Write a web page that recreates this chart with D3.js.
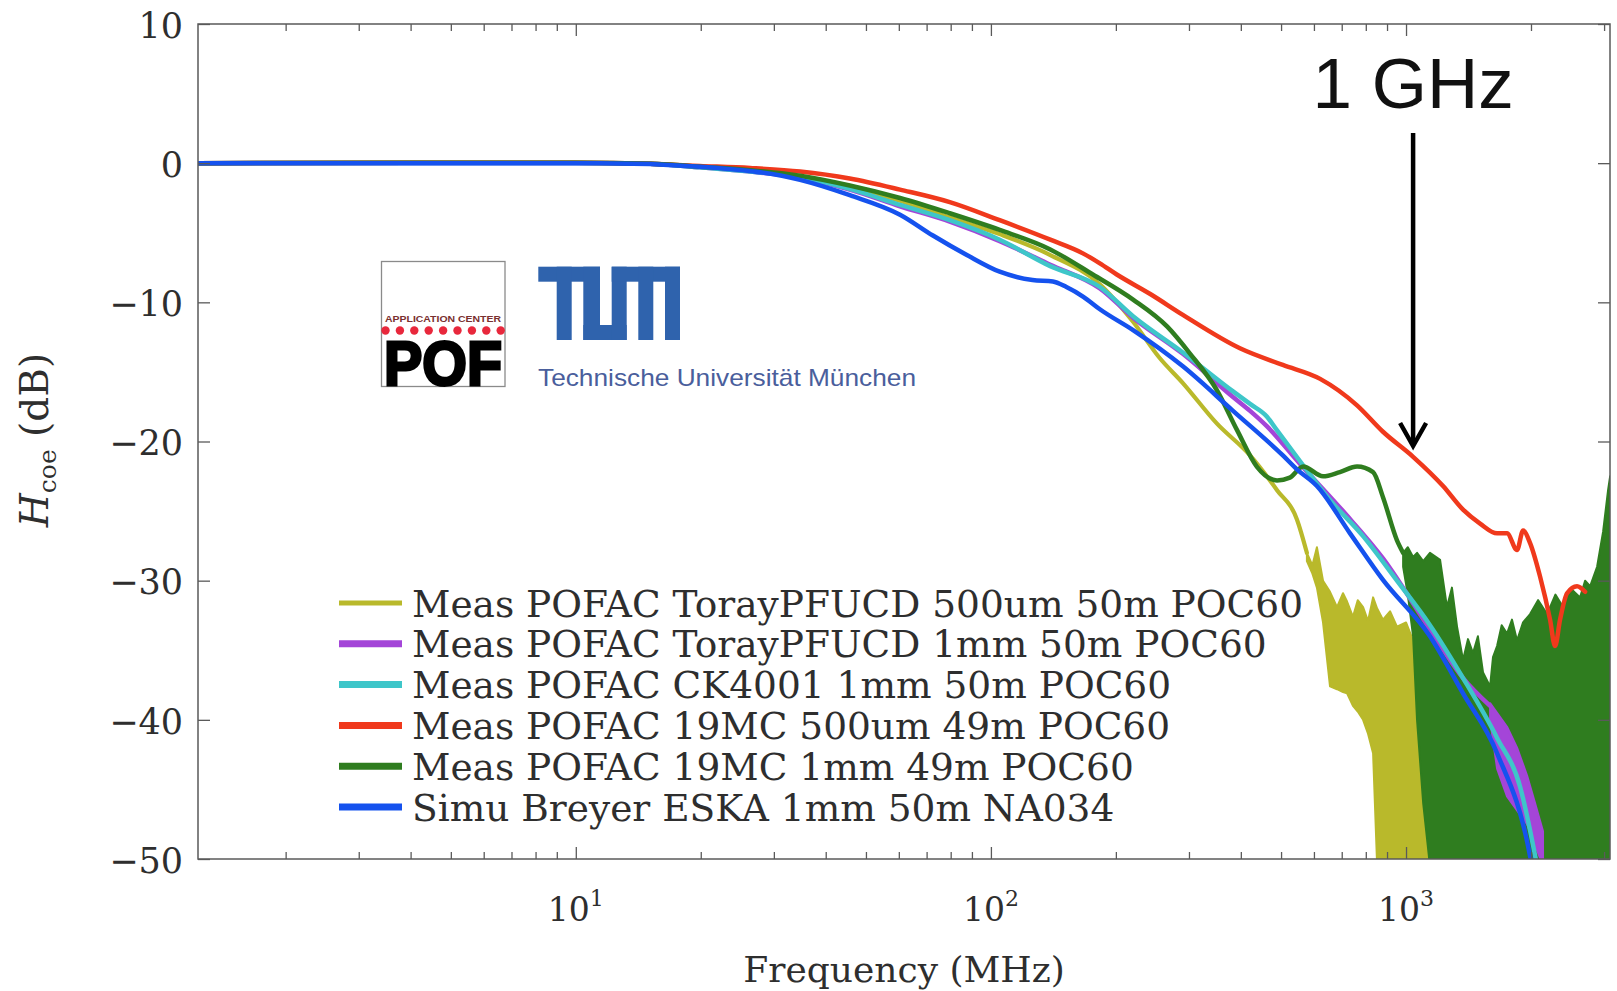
<!DOCTYPE html>
<html><head><meta charset="utf-8">
<script src="https://cdn.jsdelivr.net/npm/d3@7"></script>
<style>body{margin:0;background:#fff}svg{display:block}</style>
</head><body>
<svg id="chart" width="1617" height="991"></svg>
<script>
// ---------------- DATA ----------------
const freqDomain = [1.23, 3100];      // MHz
const dbDomain = [-50, 10];           // dB
const yTicks = [-50, -40, -30, -20, -10, 0, 10];
const xMajorTicks = [10, 100, 1000];
const xTickExponents = ["1", "2", "3"];

const seriesNames = [
  "Meas POFAC TorayPFUCD 500um 50m POC60",
  "Meas POFAC TorayPFUCD 1mm 50m POC60",
  "Meas POFAC CK4001 1mm 50m POC60",
  "Meas POFAC 19MC 500um 49m POC60",
  "Meas POFAC 19MC 1mm 49m POC60",
  "Simu Breyer ESKA 1mm 50m NA034"
];
const seriesColors = ["#b9b92b", "#a445d8", "#3ec6c9", "#f0391c", "#2f7d1f", "#1552ee"];

// [frequency MHz, dB]
const oliveLine = [[1.23,0],[5,0.03],[10,0.03],[15.1,-0.05],[19.9,-0.25],[26.3,-0.55],[34.7,-1.0],[45.7,-1.75],[60.4,-2.7],[79.6,-3.9],[105,-5.1],[139,-6.6],[183,-8.7],[220,-11.4],[255,-14.0],[290,-15.8],[350,-18.7],[421,-21.0],[489,-23.5],[546,-25.6],[577,-28.0]];
// [frequency MHz, upper dB, lower dB] envelope of the noisy tail
const oliveBand = [[577,-28.0,-28.6],[595,-28.9,-29.5],[610,-27.6,-30.5],[631,-30.0,-33.0],[656,-30.8,-37.6],[682,-31.9,-37.8],[705,-30.9,-38.0],[721,-31.5,-38.1],[745,-32.6,-39.0],[765,-31.4,-39.4],[788,-31.9,-40.0],[810,-32.9,-41.0],[833,-31.2,-42.4],[852,-32.0,-50.5],[880,-32.8,-50.5],[915,-32.2,-50.5],[951,-33.3,-50.5],[1000,-33.0,-50.5],[1040,-34.3,-50.5],[1100,-33.8,-50.5],[1162,-35.0,-50.5],[1276,-36.0,-50.5],[1372,-37.5,-50.5],[1467,-40.0,-50.5],[1508,-42.0,-50.5]];

const magentaLine = [[1.23,0],[10,0.02],[15.1,-0.05],[19.9,-0.3],[26.3,-0.6],[34.7,-1.05],[45.7,-1.9],[60.4,-3.1],[79.6,-4.2],[105,-5.6],[139,-7.3],[183,-9.0],[220,-11.1],[290,-13.7],[383,-16.8],[421,-17.8],[462,-18.9],[555,-21.6],[705,-25.0],[880,-28.4],[1142,-33.5],[1372,-37.0],[1594,-39.0]];
const magentaBand = [[1594,-38.8,-40.0],[1657,-39.5,-43.5],[1751,-40.5,-45.5],[1851,-42.0,-46.5],[1957,-44.0,-47.5],[2046,-46.0,-49.0],[2138,-48.0,-50.5]];

const cyanLine = [[1.23,0],[10,0.02],[15.1,-0.05],[19.9,-0.3],[26.3,-0.6],[34.7,-1.0],[45.7,-1.85],[60.4,-3.0],[79.6,-4.1],[105,-5.5],[139,-7.4],[183,-8.9],[220,-11.0],[290,-13.6],[383,-16.4],[421,-17.3],[462,-18.2],[489,-19.2],[555,-21.4],[656,-24.2],[788,-26.8],[951,-30.0],[1142,-33.2],[1372,-37.0],[1657,-41.3],[1882,-44.8],[2069,-50.5]];

const redLine = [[1.23,0],[10,0.03],[15.1,-0.05],[19.9,-0.2],[26.3,-0.35],[34.7,-0.6],[45.7,-1.1],[60.4,-1.9],[79.6,-2.8],[105,-4.1],[139,-5.5],[167,-6.5],[183,-7.2],[201,-8.0],[242,-9.4],[290,-10.9],[398,-13.3],[505,-14.5],[621,-15.5],[762,-17.4],[880,-19.3],[1040,-21.1],[1228,-23.2],[1372,-24.9],[1508,-25.9],[1657,-26.6],[1751,-26.6],[1851,-27.8],[1914,-26.4],[1990,-27.3],[2103,-29.7],[2223,-32.8],[2286,-34.7],[2350,-32.8],[2443,-30.9],[2582,-30.4],[2700,-30.8]];

const greenLine = [[1.23,0],[10,0.03],[15.1,-0.05],[19.9,-0.25],[26.3,-0.5],[34.7,-0.9],[45.7,-1.6],[60.4,-2.5],[79.6,-3.6],[105,-4.8],[139,-6.2],[176,-8.0],[220,-9.8],[266,-11.75],[302,-13.7],[350,-16.3],[392,-19.2],[437,-21.8],[489,-22.8],[525,-22.6],[565,-21.8],[631,-22.5],[693,-22.2],[762,-21.8],[833,-22.2],[880,-24.0],[951,-27.1],[984,-28.0]];
const greenBand = [[984,-28.0,-29.0],[1010,-27.6,-31.0],[1040,-28.3,-34.0],[1063,-28.0,-40.0],[1100,-28.6,-46.0],[1142,-28.0,-50.5],[1208,-28.5,-50.5],[1255,-31.9,-50.5],[1290,-30.5,-50.5],[1327,-33.3,-50.5],[1372,-35.7,-50.5],[1410,-34.2,-50.5],[1450,-35.2,-50.5],[1490,-34.0,-50.5],[1533,-36.6,-50.5],[1594,-37.6,-50.5],[1620,-35.5,-50.5],[1657,-34.7,-50.5],[1700,-33.2,-50.5],[1751,-33.8,-50.5],[1800,-32.8,-50.5],[1851,-34.3,-50.5],[1914,-33.0,-50.5],[1990,-32.4,-50.5],[2080,-31.4,-50.5],[2187,-32.4,-50.5],[2290,-31.0,-50.5],[2389,-31.9,-50.5],[2500,-30.6,-50.5],[2626,-31.2,-50.5],[2700,-30.0,-50.5],[2776,-30.4,-50.5],[2886,-29.0,-50.5],[2983,-26.5,-50.5],[3067,-23.5,-50.5],[3102,-22.5,-50.5]];

const blueLine = [[1.23,0],[10,0],[11.4,0],[19.9,-0.25],[34.7,-1.2],[45.7,-2.3],[60.4,-3.7],[72.5,-5.2],[87.5,-6.6],[105,-7.8],[126,-8.4],[141,-8.5],[152,-8.9],[167,-9.6],[183,-10.5],[220,-12.0],[290,-14.6],[383,-17.8],[505,-21.0],[546,-22.0],[610,-23.2],[733,-26.6],[880,-29.95],[1142,-34.0],[1372,-38.1],[1657,-42.4],[1990,-49.8],[2010,-50.5]];

const annotationFreq = 1040;   // MHz, "1 GHz" marker
const annotationText = "1 GHz";

// ---------------- LAYOUT ----------------
const plot = {left: 198, right: 1610, top: 24, bottom: 859};
const x = d3.scaleLog().domain(freqDomain).range([plot.left, plot.right]);
const y = d3.scaleLinear().domain(dbDomain).range([plot.bottom, plot.top]);
const svg = d3.select("#chart");
const serif = "'DejaVu Serif', serif";
const axisColor = "#5a5a5a";
const textColor = "#2e2e2e";

svg.append("defs").append("clipPath").attr("id", "clip")
  .append("rect").attr("x", plot.left).attr("y", plot.top)
  .attr("width", plot.right - plot.left).attr("height", plot.bottom - plot.top);

// ---------------- LOGOS ----------------
const logo = svg.append("g");
logo.append("rect").attr("x", 381.5).attr("y", 261.5).attr("width", 123.5).attr("height", 125)
  .attr("fill", "#fff").attr("stroke", "#8a8a8a").attr("stroke-width", 1.3);
logo.append("text").attr("x", 443).attr("y", 322).attr("text-anchor", "middle")
  .attr("font-family", "'Liberation Sans', Arial, sans-serif").attr("font-size", 8.5).attr("font-weight", "bold")
  .attr("fill", "#7a3030").attr("textLength", 116).attr("lengthAdjust", "spacingAndGlyphs")
  .text("APPLICATION CENTER");
d3.range(9).forEach(i => {
  logo.append("circle").attr("cx", 385.5 + i * 14.4).attr("cy", 330.5).attr("r", 4.2).attr("fill", "#e8283c");
});
logo.append("text").attr("x", 384).attr("y", 384.5)
  .attr("font-family", "'Liberation Sans', Arial, sans-serif").attr("font-size", 63).attr("font-weight", "bold")
  .attr("fill", "#000").attr("stroke", "#000").attr("stroke-width", 3)
  .attr("textLength", 118).attr("lengthAdjust", "spacingAndGlyphs").text("POF");
const tumBlue = "#2f63ad";
[[538.3,266.7,61.7,15],[556.7,266.7,15,73.3],[583.3,266.7,16.7,73.3],[583.3,325,43.4,15],
 [611.7,266.7,15,73.3],[611.7,266.7,68.3,15],[638.3,266.7,15,73.3],[665,266.7,15,73.3]]
 .forEach(r => logo.append("rect").attr("x", r[0]).attr("y", r[1]).attr("width", r[2]).attr("height", r[3]).attr("fill", tumBlue));
logo.append("text").attr("x", 538).attr("y", 385.5)
  .attr("font-family", "'Liberation Sans', Arial, sans-serif").attr("font-size", 24)
  .attr("fill", "#4a5e9c").attr("textLength", 378).attr("lengthAdjust", "spacingAndGlyphs")
  .text("Technische Universität München");

// ---------------- DATA MARKS ----------------
const data = svg.append("g").attr("clip-path", "url(#clip)");
const line = d3.line().x(d => x(d[0])).y(d => y(d[1])).curve(d3.curveMonotoneX);
const band = d3.area().x(d => x(d[0])).y1(d => y(d[1])).y0(d => y(d[2])).curve(d3.curveLinear);

function drawLine(arr, color, w) {
  data.append("path").datum(arr).attr("d", line).attr("fill", "none").attr("stroke", color)
    .attr("stroke-width", w).attr("stroke-linejoin", "round").attr("stroke-linecap", "round");
}
function drawBand(arr, color) {
  data.append("path").datum(arr).attr("d", band).attr("fill", color).attr("stroke", color)
    .attr("stroke-width", 2).attr("stroke-linejoin", "round");
}
drawLine(oliveLine, seriesColors[0], 4.2);
drawBand(oliveBand, seriesColors[0]);
drawBand(greenBand, seriesColors[4]);
drawLine(magentaLine, seriesColors[1], 4.5);
drawBand(magentaBand, seriesColors[1]);
drawLine(cyanLine, seriesColors[2], 4.5);
drawLine(redLine, seriesColors[3], 4.5);
drawLine(greenLine, seriesColors[4], 4.5);
drawLine(blueLine, seriesColors[5], 4.5);

// ---------------- AXES ----------------
const allLogTicks = x.ticks();
const minorTicks = allLogTicks.filter(t => !xMajorTicks.includes(t));

function styleAxis(g) {
  g.select(".domain").remove();
  g.selectAll(".tick line").attr("stroke", axisColor).attr("stroke-width", 1.3);
}
svg.append("g").attr("transform", `translate(0,${plot.bottom})`)
  .call(d3.axisBottom(x).tickValues(minorTicks).tickSize(-7).tickFormat("").tickSizeOuter(0)).call(styleAxis);
svg.append("g").attr("transform", `translate(0,${plot.bottom})`)
  .call(d3.axisBottom(x).tickValues(xMajorTicks).tickSize(-12).tickFormat("").tickSizeOuter(0)).call(styleAxis);
svg.append("g").attr("transform", `translate(0,${plot.top})`)
  .call(d3.axisTop(x).tickValues(minorTicks).tickSize(-7).tickFormat("").tickSizeOuter(0)).call(styleAxis);
svg.append("g").attr("transform", `translate(0,${plot.top})`)
  .call(d3.axisTop(x).tickValues(xMajorTicks).tickSize(-12).tickFormat("").tickSizeOuter(0)).call(styleAxis);
svg.append("g").attr("transform", `translate(${plot.right},0)`)
  .call(d3.axisRight(y).tickValues(yTicks).tickSize(-12).tickFormat("").tickSizeOuter(0)).call(styleAxis);

const gy = svg.append("g").attr("transform", `translate(${plot.left},0)`)
  .call(d3.axisLeft(y).tickValues(yTicks).tickSize(-12).tickPadding(15).tickSizeOuter(0)
    .tickFormat(d => d < 0 ? "\u2212" + Math.abs(d) : String(d)));
styleAxis(gy);
gy.selectAll(".tick text").attr("font-family", serif).attr("font-size", 35).attr("fill", textColor).attr("dy", "0.38em");

svg.append("rect").attr("x", plot.left).attr("y", plot.top)
  .attr("width", plot.right - plot.left).attr("height", plot.bottom - plot.top)
  .attr("fill", "none").attr("stroke", axisColor).attr("stroke-width", 1.5);

xMajorTicks.forEach((v, i) => {
  const t = svg.append("text").attr("x", x(v)).attr("y", 921).attr("text-anchor", "middle")
    .attr("font-family", serif).attr("fill", textColor);
  t.append("tspan").attr("font-size", 33).text("10");
  t.append("tspan").attr("font-size", 22).attr("dy", -15).text(xTickExponents[i]);
});

svg.append("text").attr("x", (plot.left + plot.right) / 2).attr("y", 982).attr("text-anchor", "middle")
  .attr("font-family", serif).attr("font-size", 36).attr("fill", textColor).text("Frequency (MHz)");
const yl = svg.append("text").attr("transform", "translate(48,440) rotate(-90)").attr("text-anchor", "middle")
  .attr("font-family", serif).attr("fill", textColor);
yl.append("tspan").attr("font-size", 39).attr("font-style", "italic").text("H");
yl.append("tspan").attr("font-size", 25).attr("dy", 8).text("coe");
yl.append("tspan").attr("font-size", 39).attr("dy", -8).text("\u00a0(dB)");

// ---------------- LEGEND ----------------
const legend = svg.append("g");
seriesNames.forEach((name, i) => {
  const cy = 603 + i * 40.8;
  legend.append("line").attr("x1", 339).attr("x2", 402).attr("y1", cy).attr("y2", cy)
    .attr("stroke", seriesColors[i]).attr("stroke-width", i === 0 ? 5 : 7);
  legend.append("text").attr("x", 412).attr("y", cy + 13.5)
    .attr("font-family", serif).attr("font-size", 37.5).attr("fill", textColor).text(name);
});

// ---------------- ANNOTATION ----------------
const ax = x(annotationFreq);
svg.append("text").attr("x", ax).attr("y", 108).attr("text-anchor", "middle")
  .attr("font-family", "'Liberation Sans', Arial, sans-serif").attr("font-size", 71).attr("fill", "#111")
  .text(annotationText);
svg.append("line").attr("x1", ax).attr("x2", ax).attr("y1", 133).attr("y2", 444)
  .attr("stroke", "#000").attr("stroke-width", 4.5);
svg.append("polyline").attr("points", `${ax - 13},${423} ${ax},${446} ${ax + 13},${423}`)
  .attr("fill", "none").attr("stroke", "#000").attr("stroke-width", 4.5).attr("stroke-linejoin", "miter");
</script>
</body></html>
